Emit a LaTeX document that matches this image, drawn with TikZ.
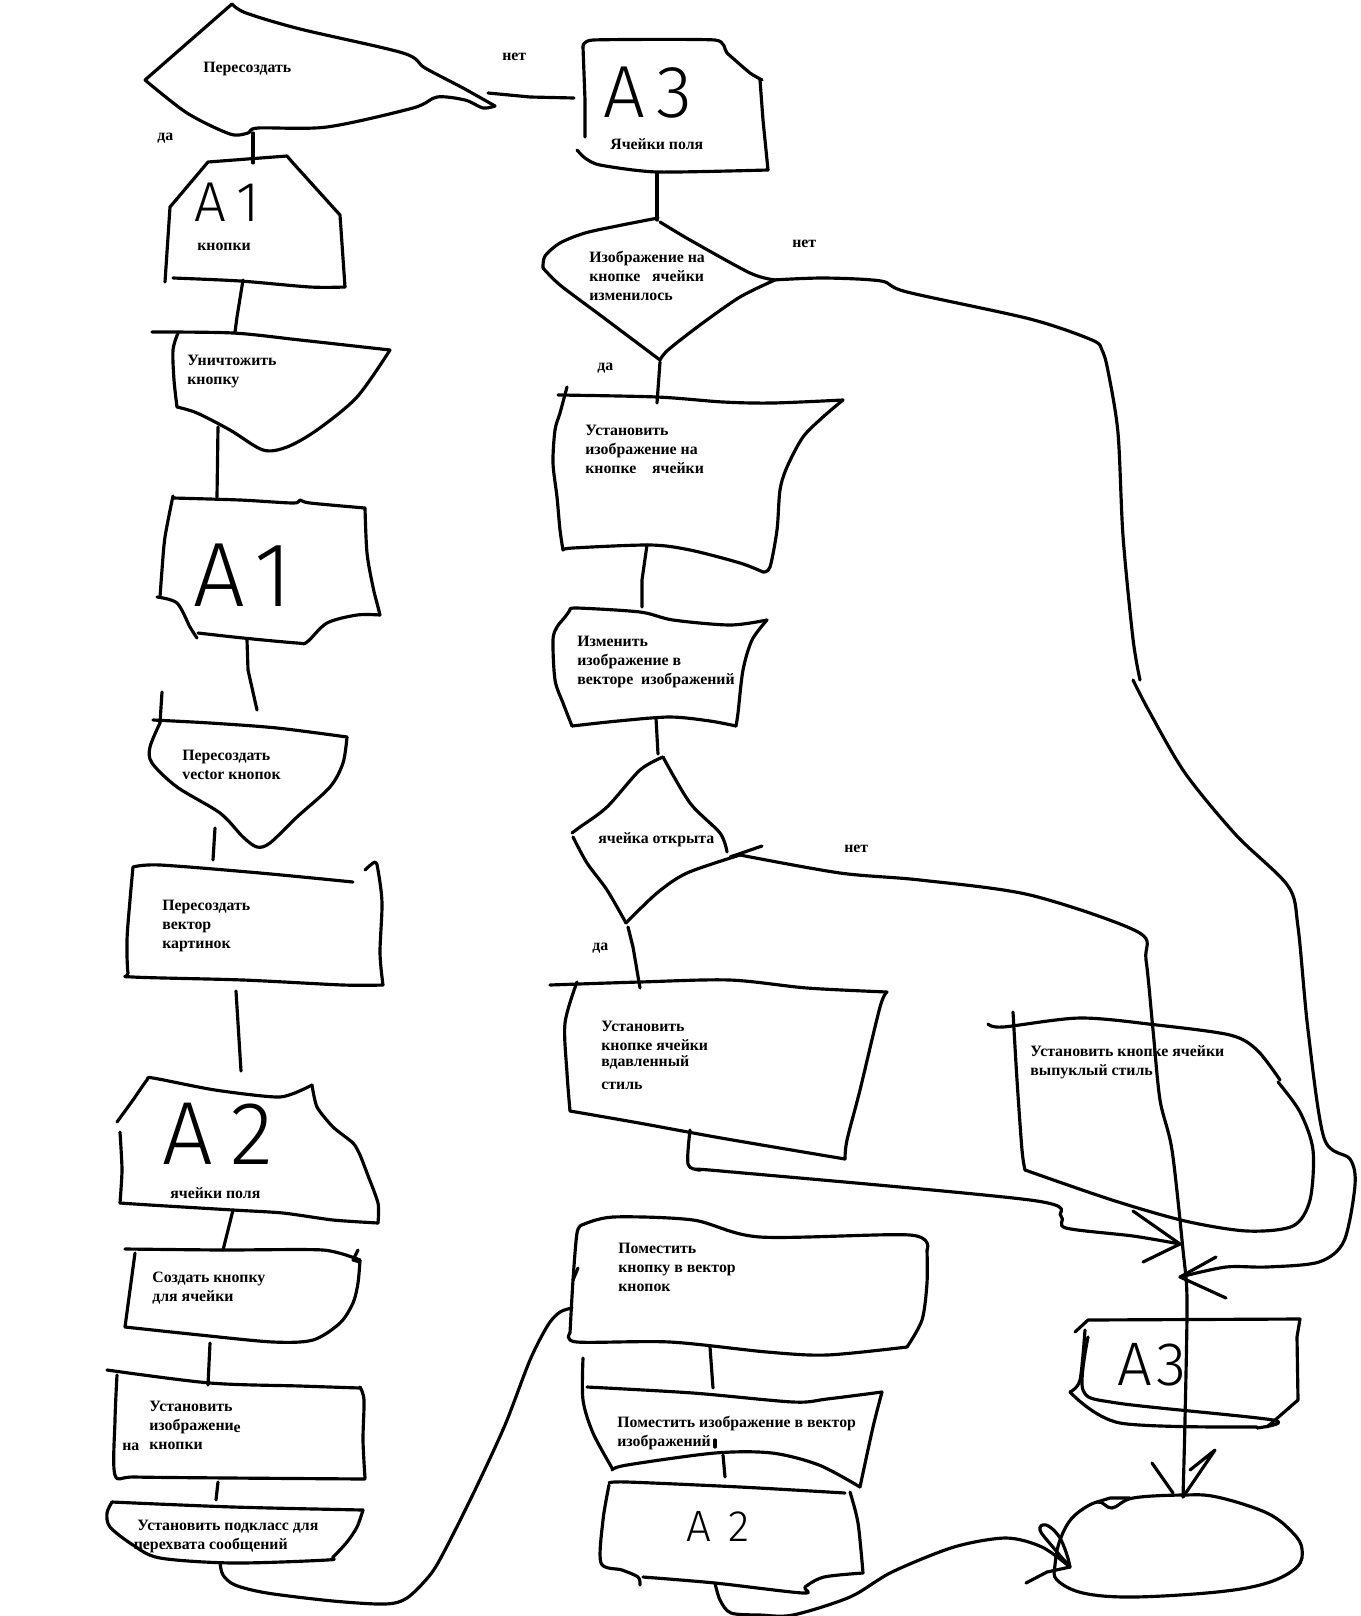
\documentclass[tikz,border=0pt]{standalone}
\usepackage{fontspec}
\setmainfont{Liberation Serif}
\IfFontExistsTF{Fira Sans Light}{\newfontfamily\handfont{Fira Sans Light}}{\newfontfamily\handfont{Fira Sans}}
\begin{document}
\begin{tikzpicture}[x=0.02cm, y=-0.02cm,
  pen/.style={line width=1.8pt, line cap=round, line join=round},
  lbl/.style={anchor=north west, align=left, inner sep=0pt, font=\bfseries\fontsize{9}{10.8}\selectfont},
  hand/.style={inner sep=0pt, text depth=0pt, font=\handfont\fontsize{#1}{#1}\selectfont}]
\useasboundingbox (0,0) rectangle (1361,1616);
% left column
\draw[pen] (145,80) -- (232,4);
\draw[pen] plot[smooth,tension=.5] coordinates {(232,4) (246,13) (300,29) (403,53) (425,68) (463,88) (495,106)};
\draw[pen] plot[smooth,tension=.5] coordinates {(495,106) (483,108) (465,100) (437,97) (413,108) (327,127) (258,128) (248,133) (230,134) (187,113) (145,80)};
\node[lbl] (tperes) at (203,62) {Пересоздать};
\node[lbl] (tda1) at (157,133) {да};
\node[lbl] (tnet1) at (502,53) {нет};

\draw[pen] (165,282) -- (170,207) -- (208,162) -- (287,156) -- (293,163) -- (340,215) -- (345,287);
\draw[pen] plot[smooth,tension=.5] coordinates {(345,287) (310,287) (240,281) (173,278)};
\node[hand=32] (ha1s) at (227,202) {A\hspace{6pt}1};
\node[lbl] (ta1s) at (197,243) {кнопки};

\draw[pen] plot[smooth,tension=.5] coordinates {(152,332) (233,333) (300,340) (390,350)};
\draw[pen] plot[smooth,tension=.5] coordinates {(178,333) (173,350) (174,380) (177,407)};
\draw[pen] plot[smooth,tension=.5] coordinates {(177,407) (197,413) (230,430) (263,450) (287,447) (317,430) (357,397) (390,350)};
\node[lbl] (tkill) at (187,355) {Уничтожить\\кнопку};

\draw[pen] plot[smooth,tension=.5] coordinates {(173,498) (240,500) (293,503) (300,500) (310,503) (365,508)};
\draw[pen] plot[smooth,tension=.5] coordinates {(365,508) (367,553) (373,587) (378,607) (380,615)};
\draw[pen] plot[smooth,tension=.5] coordinates {(380,615) (357,615) (327,623) (307,642) (297,643) (243,638) (198,633)};
\draw[pen] plot[smooth,tension=.5] coordinates {(197,638) (190,627) (177,603) (157,597)};
\draw[pen] plot[smooth,tension=.5] coordinates {(173,496) (165,537) (162,570) (160,597)};
\node[hand=52] (ha1b) at (243,575) {A\hspace{5pt}1};

\draw[pen] (162,692) -- (160,723);
\draw[pen] plot[smooth,tension=.5] coordinates {(153,720) (210,723) (277,728) (347,737)};
\draw[pen] plot[smooth,tension=.5] coordinates {(160,723) (150,747) (152,763) (177,787) (220,813) (243,837) (257,847) (270,843) (297,817) (330,787) (343,763) (347,737)};
\node[lbl] (tvec) at (182,750) {Пересоздать\\vector кнопок};

\draw[pen] plot[smooth,tension=.5] coordinates {(133,867) (160,865) (260,873) (353,882)};
\draw[pen] plot[smooth,tension=.5] coordinates {(365,870) (375,862) (378,870) (382,903) (380,953) (383,985)};
\draw[pen] plot[smooth,tension=.5] coordinates {(133,867) (130,900) (127,940) (128,973) (133,977) (243,980) (343,985) (383,985)};
\node[lbl] (tpic) at (162,900) {Пересоздать\\вектор\\картинок};

\draw[pen] plot[smooth,tension=.4] coordinates {(117,1122) (133,1100) (147,1080) (153,1078) (215,1090) (280,1097) (312,1085)};
\draw[pen] plot[smooth,tension=.4] coordinates {(312,1085) (317,1107) (333,1127) (353,1143) (360,1155) (367,1173) (378,1203) (378,1223)};
\draw[pen] plot[smooth,tension=.4] coordinates {(378,1223) (333,1220) (283,1213) (233,1210) (150,1205) (120,1203)};
\draw[pen] plot[smooth,tension=.4] coordinates {(120,1132) (122,1170) (120,1203)};
\node[hand=51] (ha2l) at (218,1134) {A\hspace{10pt}2};
\node[lbl] (ta2l) at (170,1187) {ячейки поля};

\draw[pen] plot[smooth,tension=.4] coordinates {(125,1249) (223,1250) (323,1250) (360,1260)};
\draw[pen] (358,1250) -- (353,1260) -- (360,1262);
\draw[pen] plot[smooth,tension=.5] coordinates {(360,1260) (358,1283) (353,1303) (340,1323) (313,1340) (273,1342) (200,1335) (125,1327)};
\draw[pen] plot[smooth,tension=.5] coordinates {(135,1253) (130,1290) (125,1327)};
\node[lbl] (tnew) at (152,1272) {Создать кнопку\\для ячейки};

\draw[pen] plot[smooth,tension=.5] coordinates {(107,1370) (210,1383) (300,1386) (360,1388)};
\draw[pen] plot[smooth,tension=.5] coordinates {(360,1387) (364,1400) (363,1440) (365,1478)};
\draw[pen] plot[smooth,tension=.5] coordinates {(117,1375) (115,1420) (115,1475) (135,1477) (230,1478) (365,1479)};
\node[lbl] (timg) at (149,1401) {Установить\\изображени\raisebox{-1pt}{е}\\кнопки};
\node[lbl] (tna) at (122,1443) {на};

\draw[pen] plot[smooth,tension=.5] coordinates {(112,1502) (233,1507) (363,1510)};
\draw[pen] plot[smooth,tension=.5] coordinates {(363,1510) (357,1527) (347,1542) (333,1557) (327,1560) (233,1563) (160,1558) (133,1545) (110,1527) (107,1513) (112,1502)};
\node[lbl] (tsub) at (137,1520) {Установить подкласс для\\\hspace{-2pt}перехвата сообщений};

% right column
\draw[pen] plot[smooth,tension=.3] coordinates {(583,47) (593,40) (715,40) (727,53) (750,73) (762,80)};
\draw[pen] (760,80) -- (763,120) -- (768,170);
\draw[pen] plot[smooth,tension=.4] coordinates {(768,170) (657,172) (600,165) (585,158) (577,150)};
\draw[pen] (585,137) -- (585,100) -- (583,47);
\node[hand=42] (ha3t) at (648,92) {A\hspace{6pt}3};
\node[lbl] (ta3t) at (610,138) {Ячейки поля};

\draw[pen] plot[smooth,tension=.5] coordinates {(658,218) (622,225) (585,233) (560,243) (545,256) (543,268)};
\draw[pen] plot[smooth,tension=.5] coordinates {(543,268) (560,285) (600,315) (640,345) (660,360)};
\draw[pen] plot[smooth,tension=.5] coordinates {(660,360) (668,350) (700,325) (740,297) (775,280)};
\draw[pen] plot[smooth,tension=.5] coordinates {(660,222) (690,240) (750,273) (775,280)};
\node[lbl] (td2) at (589,251) {Изображение на\\кнопке\ \ \ ячейки\\изменилось};
\node[lbl] (tnet2) at (792,240) {нет};
\node[lbl] (tda2) at (597,363) {да};

\draw[pen] plot[smooth,tension=.5] coordinates {(558,395) (657,397) (723,402) (773,403) (843,400)};
\draw[pen] plot[smooth,tension=.5] coordinates {(843,400) (823,417) (803,437) (787,467) (780,490) (777,530) (770,567) (763,572)};
\draw[pen] plot[smooth,tension=.5] coordinates {(763,572) (740,563) (690,550) (650,545) (573,548) (563,550)};
\draw[pen] plot[smooth,tension=.5] coordinates {(567,387) (560,413) (555,430) (553,463) (557,497) (560,530) (563,550)};
\node[lbl] (tset) at (585,425) {Установить\\изображение на\\кнопке\ \ \ \ ячейки};

\draw[pen] plot[smooth,tension=.5] coordinates {(570,610) (577,608) (640,612) (673,620) (730,625) (767,620)};
\draw[pen] plot[smooth,tension=.5] coordinates {(570,610) (565,617) (557,627) (553,640) (555,680) (563,703) (572,726)};
\draw[pen] plot[smooth,tension=.5] coordinates {(767,620) (752,640) (743,670) (738,713) (736,726)};
\draw[pen] plot[smooth,tension=.5] coordinates {(572,726) (618,721) (670,717) (710,721) (736,726)};
\node[lbl] (tchg) at (577,636) {Изменить\\изображение в\\векторе\ \ изображений};

\draw[pen] plot[smooth,tension=.5] coordinates {(663,757) (640,770) (607,807) (580,827) (572,833)};
\draw[pen] plot[smooth,tension=.5] coordinates {(573,837) (587,863) (607,890) (626,923)};
\draw[pen] plot[smooth,tension=.5] coordinates {(626,923) (657,893) (687,873) (740,855)};
\draw[pen] plot[smooth,tension=.5] coordinates {(663,757) (690,803) (720,833) (727,852)};
\draw[pen] (730,857) -- (762,846);
\node[lbl] (td3) at (598,832) {ячейка открыта};
\node[lbl] (tnet3) at (844,845) {нет};
\node[lbl] (tda3) at (592,943) {да};

\draw[pen] plot[smooth,tension=.5] coordinates {(550,985) (640,982) (730,980) (807,988) (887,992)};
\draw[pen] plot[smooth,tension=.5] coordinates {(577,982) (565,1023) (567,1073) (570,1111)};
\draw[pen] plot[smooth,tension=.5] coordinates {(570,1111) (639,1123) (721,1138) (845,1159)};
\draw[pen] plot[smooth,tension=.5] coordinates {(887,992) (880,1007) (860,1090) (847,1140) (845,1159)};
\node[lbl] (tdown) at (601,1021) {Установить\\кнопке ячейки\\[-1.7pt]вдавленный\\[2.3pt]стиль};

\draw[pen] plot[smooth,tension=.5] coordinates {(988,1024) (1003,1027) (1080,1018) (1157,1025) (1230,1035) (1257,1050) (1280,1080)};
\draw[pen] plot[smooth,tension=.5] coordinates {(1278,1082) (1300,1112) (1313,1150) (1310,1200) (1293,1226) (1247,1231) (1185,1221) (1112,1200) (1025,1170)};
\draw[pen] plot[smooth,tension=.5] coordinates {(1013,1012) (1017,1080) (1022,1150) (1025,1170)};
\node[lbl] (tup) at (1030,1045) {Установить кнопке ячейки\\выпуклый стиль};

\draw[pen] plot[smooth,tension=.5] coordinates {(582,1225) (613,1217) (693,1220) (760,1237) (910,1235) (927,1250)};
\draw[pen] plot[smooth,tension=.5] coordinates {(927,1250) (927,1283) (922,1320) (907,1347)};
\draw[pen] plot[smooth,tension=.5] coordinates {(907,1347) (827,1355) (767,1352) (670,1342) (577,1342) (570,1333)};
\draw[pen] plot[smooth,tension=.5] coordinates {(582,1225) (577,1233) (573,1280) (570,1333)};
\draw[pen] (578,1268) -- (573,1280);
\node[lbl] (tpush) at (618,1243) {Поместить\\кнопку в вектор\\кнопок};

\draw[pen] plot[smooth,tension=.5] coordinates {(587,1387) (693,1393) (793,1402) (827,1399) (882,1392)};
\draw[pen] plot[smooth,tension=.5] coordinates {(882,1392) (873,1427) (860,1487)};
\draw[pen] plot[smooth,tension=.5] coordinates {(583,1358) (583,1400) (593,1433) (612,1468)};
\draw[pen] plot[smooth,tension=.5] coordinates {(612,1470) (627,1465) (715,1453) (772,1453) (819,1465) (860,1487)};
\draw[pen] (715,1440) -- (715,1447);
\node[lbl] (tpimg) at (617,1416) {Поместить изображение в вектор\\изображений};

\draw[pen] plot[smooth,tension=.5] coordinates {(609,1483) (627,1482) (740,1487) (845,1493)};
\draw[pen] plot[smooth,tension=.5] coordinates {(850,1492) (858,1523) (863,1573)};
\draw[pen] plot[smooth,tension=.5] coordinates {(609,1485) (603,1520) (601,1563) (622,1570) (638,1577) (640,1585)};
\draw[pen] plot[smooth,tension=.5] coordinates {(643,1577) (715,1583) (803,1593) (805,1587) (824,1577) (863,1573)};
\node[hand=25] (ha2m) at (718,1526) {A\hspace{10pt}2};

\draw[pen] (1075,1332) -- (1088,1320) -- (1300,1319) -- (1297,1337) -- (1298,1400) -- (1267,1427);
\draw[pen] plot[smooth,tension=.5] coordinates {(1257,1427) (1120,1423) (1070,1392)};
\draw[pen] plot[smooth,tension=.5] coordinates {(1085,1330) (1080,1380) (1070,1392)};
\draw[pen] plot[smooth,tension=.5] coordinates {(1088,1337) (1083,1390) (1117,1403) (1273,1420) (1257,1428)};
\node[hand=35] (ha3b) at (1152,1364) {A\hspace{2pt}3};

\draw[pen] plot[smooth cycle,tension=.6] coordinates {(1183,1495) (1217,1497) (1267,1513) (1293,1533) (1302,1549) (1297,1567) (1267,1583) (1217,1592) (1133,1597) (1083,1593) (1057,1580) (1055,1565) (1060,1540) (1073,1517) (1097,1502) (1112,1508) (1133,1498)};
\draw[pen] (1097,1502) -- (1110,1498) -- (1130,1498);
\coordinate (oval) at (1183,1497);

% connectors
\coordinate (d1e) at (488,93); \coordinate (a3w) at (574,98);
\draw[pen] (d1e) -- (530,97) -- (a3w);
\coordinate (d1s) at (253,133); \coordinate (a1n) at (253,163);
\draw[pen] (d1s) -- (a1n);
\coordinate (a1s) at (243,280); \coordinate (killn) at (235,332);
\draw[pen] (a1s) -- (237,317) -- (killn);
\coordinate (kills) at (218,427); \coordinate (a1bn) at (217,497);
\draw[pen] (kills) -- (a1bn);
\coordinate (a1bs) at (247,640); \coordinate (vecn) at (257,710);
\draw[pen] (a1bs) -- (248,670) -- (vecn);
\coordinate (vecs) at (215,828); \coordinate (picn) at (213,860);
\draw[pen] (vecs) -- (picn);
\coordinate (pics) at (236,991); \coordinate (a2ln) at (241,1071);
\draw[pen] (pics) -- (a2ln);
\coordinate (a2ls) at (233,1210); \coordinate (newn) at (223,1250);
\draw[pen] (a2ls) -- (newn);
\coordinate (news) at (210,1343); \coordinate (imgn) at (208,1385);
\draw[pen] (news) -- (imgn);
\coordinate (imgs) at (218,1482); \coordinate (subn) at (216,1500);
\draw[pen] (imgs) -- (subn);
\coordinate (subs) at (220,1563); \coordinate (pushw) at (572,1308);
\draw[pen] plot[smooth,tension=.5] coordinates {(subs) (223,1575) (235,1585) (267,1593) (333,1601) (385,1604) (407,1598) (430,1575) (445,1550) (475,1490) (505,1425) (530,1360) (548,1325) (560,1312) (pushw)};
\coordinate (a3s) at (657,173); \coordinate (d2n) at (657,220);
\draw[pen] (a3s) -- (d2n);
\coordinate (d2s) at (660,362); \coordinate (setn) at (657,403);
\draw[pen] (d2s) -- (setn);
\coordinate (sets) at (647,545); \coordinate (chgn) at (642,607);
\draw[pen] (sets) -- (642,580) -- (chgn);
\coordinate (chgs) at (656,718); \coordinate (d3n) at (658,754);
\draw[pen] (chgs) -- (d3n);
\coordinate (d3s) at (628,927); \coordinate (downn) at (640,988);
\draw[pen] (d3s) -- (633,947) -- (downn);
\coordinate (pushs) at (710,1347); \coordinate (pimgn) at (713,1388);
\draw[pen] (pushs) -- (pimgn);
\coordinate (pimgs) at (723,1455); \coordinate (a2mn) at (725,1477);
\draw[pen] (pimgs) -- (a2mn);
% no-branches
\coordinate (d2e) at (773,280); \coordinate (tipb) at (1180,1277);
\draw[pen] plot[smooth,tension=.5] coordinates {(d2e) (824,278) (881,281) (907,292) (1030,319) (1092,340) (1102,350) (1108,371) (1118,433) (1123,536) (1133,639) (1140,680)};
\draw[pen] plot[smooth,tension=.5] coordinates {(1133,680) (1149,711) (1185,773) (1236,835) (1288,886) (1298,927) (1308,1030) (1324,1138) (1350,1159) (1355,1185) (1344,1241) (1319,1262) (1267,1267) (1226,1267) (tipb)};
\draw[pen] (1216,1257) -- (tipb) -- (1226,1298);
\coordinate (d3e) at (740,855);
\draw[pen] plot[smooth,tension=.5] coordinates {(d3e) (840,873) (920,880) (1030,895) (1138,932) (1146,960) (1153,1030) (1160,1100) (1172,1150) (1183,1250) (1187,1300) (1185,1420) (oval)};
\draw[pen] (1152,1463) -- (1173,1493);
\draw[pen] (1190,1470) -- (1215,1450) -- (oval);
\coordinate (downs) at (690,1130); \coordinate (tipa) at (1180,1244);
\draw[pen] plot[smooth,tension=.5] coordinates {(downs) (688,1164) (700,1170) (721,1171) (1030,1200) (1061,1216) (1066,1228) (1133,1236) (tipa)};
\draw[pen] (1133,1211) -- (tipa) -- (1143,1262);
\coordinate (a2ms) at (715,1583); \coordinate (ovalw) at (1070,1567);
\draw[pen] plot[smooth,tension=.5] coordinates {(a2ms) (720,1600) (731,1613) (760,1615) (793,1615) (850,1597) (892,1572) (954,1547) (1006,1538) (1042,1547) (ovalw)};
\draw[pen] plot[smooth,tension=.7] coordinates {(ovalw) (1052,1546) (1040,1530) (1046,1525) (1058,1535) (1066,1552) (ovalw)};
\draw[pen] (1026,1583) -- (1047,1572) -- (ovalw);
\end{tikzpicture}
\end{document}
